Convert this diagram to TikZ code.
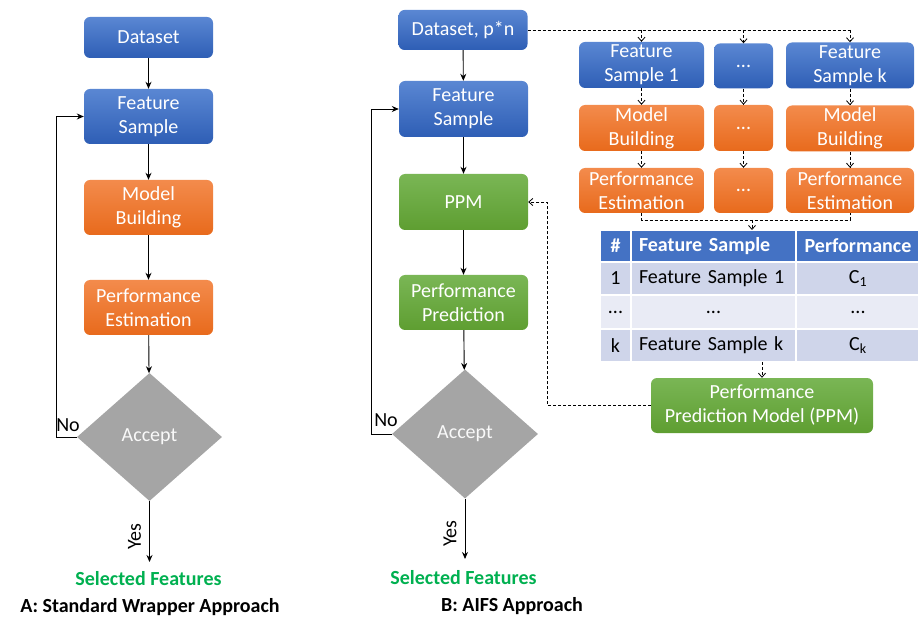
\documentclass[tikz,border=0pt]{standalone}
\usepackage{fontspec}
\setmainfont{Carlito}
\usetikzlibrary{shapes.geometric,arrows.meta}
\definecolor{bltop}{HTML}{5A87D3}
\definecolor{blbot}{HTML}{2E5EB5}
\definecolor{ortop}{HTML}{F38B4C}
\definecolor{orbot}{HTML}{E86A1C}
\definecolor{grtop}{HTML}{7AB655}
\definecolor{grbot}{HTML}{5E9E31}
\definecolor{dgray}{HTML}{A5A5A5}
\definecolor{selgreen}{HTML}{00B050}
\definecolor{thead}{HTML}{4472C4}
\definecolor{tdark}{HTML}{CFD5EA}
\definecolor{tlight}{HTML}{E9EBF5}
\begin{document}
\begin{tikzpicture}[x=1pt,y=-1pt,
  font=\fontsize{20}{24}\selectfont,
  box/.style={rounded corners=6pt, draw=none, text=white, align=center, inner sep=0pt, minimum width=129pt, minimum height=55pt},
  bluebox/.style={box, top color=bltop, bottom color=blbot},
  orbox/.style={box, top color=ortop, bottom color=orbot},
  grbox/.style={box, top color=grtop, bottom color=grbot},
  decision/.style={diamond, fill=dgray, text=white!95!gray, inner sep=0pt, minimum width=145pt, minimum height=128pt},
  flow/.style={line width=0.9pt, -{Stealth[length=7pt,width=6pt]}},
  loopline/.style={line width=0.9pt, -{Stealth[length=7pt,width=6pt]}},
  dflow/.style={line width=0.8pt, dash pattern=on 3pt off 2pt, -{Straight Barb[length=4pt,width=7pt]}},
  dline/.style={line width=0.8pt, dash pattern=on 3pt off 2pt},
  cell/.style={draw=white, line width=1.5pt, inner sep=0pt, minimum height=33pt},
  hcell/.style={cell, fill=thead, minimum height=32pt, text=white, font=\fontsize{20}{24}\selectfont\bfseries},
  yeslab/.style={rotate=90, anchor=south, inner sep=8pt, pos=0.58},
  sel/.style={text=selgreen, font=\fontsize{20}{24}\selectfont\bfseries},
  capt/.style={font=\fontsize{20}{24}\selectfont\bfseries}
]
\useasboundingbox (0,0) rectangle (918,617);

% ---------- A: standard wrapper ----------
\node[bluebox, minimum height=41pt] (ds1) at (148.5,37.5) {Dataset};
\node[bluebox] (fs1) at (148.5,116.5) {Feature\\Sample};
\node[orbox] (mb1) at (148.5,207.5) {Model\\Building};
\node[orbox] (pe1) at (148.5,307.5) {Performance\\Estimation};
\node[decision] (acc1) at (149.5,437) {Accept};
\node[sel] (sf1) at (148.5,579) {Selected Features};
\node[capt] (capA) at (150,607) {A: Standard Wrapper Approach};
\coordinate (yes1end) at (149.5,562);

\draw[flow] (ds1) -- (fs1);
\draw[flow] (fs1) -- (mb1);
\draw[flow] (mb1) -- (pe1);
\draw[flow] (pe1) -- (acc1);
\draw[flow] (acc1) -- node[yeslab] (yes1) {Yes} (yes1end);
\draw[loopline] (acc1.west) -- (56,437) -- (56,116.5) -- (fs1.west);
\node (no1) at (68,425) {No};

% ---------- B: AIFS ----------
\node[bluebox, minimum height=40pt] (ds2) at (463,30) {Dataset, p*n};
\node[bluebox, minimum height=56pt] (fs2) at (463.5,109) {Feature\\Sample};
\node[grbox, minimum height=56pt] (ppm) at (463.5,202) {PPM};
\node[grbox] (pp) at (463.5,302.5) {Performance\\Prediction};
\node[decision, minimum width=146pt, minimum height=129pt] (acc2) at (465,434) {Accept};
\node[sel] (sf2) at (463.5,578) {Selected Features};
\node[capt] (capB) at (512,606) {B: AIFS Approach};
\coordinate (yes2end) at (465,559);

\draw[flow] (ds2) -- (fs2);
\draw[flow] (fs2) -- (ppm);
\draw[flow] (ppm) -- (pp);
\draw[flow] (pp) -- (acc2);
\draw[flow] (acc2) -- node[yeslab] (yes2) {Yes} (yes2end);
\draw[loopline] (acc2.west) -- (371,434) -- (371,109) -- (fs2.west);
\node (no2) at (386,420) {No};

% grid of parallel samples
\node[bluebox, minimum width=125pt, minimum height=46pt] (g11) at (641.5,65) {Feature\\Sample 1};
\node[bluebox, minimum width=59pt, minimum height=45pt] (g12) at (743.5,66) {...};
\node[bluebox, minimum width=128pt, minimum height=46pt] (g13) at (850,65.5) {Feature\\Sample k};
\node[orbox, minimum width=125pt, minimum height=46pt] (g21) at (641.5,128) {Model\\Building};
\node[orbox, minimum width=59pt, minimum height=46pt] (g22) at (743.5,128) {...};
\node[orbox, minimum width=128pt, minimum height=46pt] (g23) at (850,128.5) {Model\\Building};
\node[orbox, minimum width=125pt, minimum height=45pt] (g31) at (641.5,190.5) {Performance\\Estimation};
\node[orbox, minimum width=59pt, minimum height=45pt] (g32) at (743.5,190.5) {...};
\node[orbox, minimum width=128pt, minimum height=45pt] (g33) at (850,190.5) {Performance\\Estimation};

\coordinate (split1) at (641.5,30);
\coordinate (split2) at (743.5,30);
\coordinate (split3) at (850,30);
\draw[dline] (ds2.east) -- (split3);
\draw[dflow] (split1) -- (g11.north);
\draw[dflow] (split2) -- (g12.north);
\draw[dflow] (split3) -- (g13.north);
\draw[dflow] (g11) -- (g21);
\draw[dflow] (g12) -- (g22);
\draw[dflow] (g13) -- (g23);
\draw[dflow] (g21) -- (g31);
\draw[dflow] (g22) -- (g32);
\draw[dflow] (g23) -- (g33);
\coordinate (m1) at (641.5,220);
\coordinate (m3) at (850,220);
\coordinate (mj) at (752,220);
\draw[dline] (g31.south) -- (m1) -- (m3) -- (g33.south);

% table
\node[hcell, minimum width=31pt] (h1) at (615.5,246) {\#};
\node[hcell, minimum width=165pt, text width=149pt, align=left] (h2) at (713.5,246) {Feature Sample};
\node[hcell, minimum width=124pt] (h3) at (858,246) {Performance};
\node[cell, fill=tdark, minimum width=31pt] (r11) at (615.5,278.5) {1};
\node[cell, fill=tdark, minimum width=165pt, text width=149pt, align=left] (r12) at (713.5,278.5) {Feature Sample 1};
\node[cell, fill=tdark, minimum width=124pt] (r13) at (858,278.5) {C\textsubscript{1}};
\node[cell, fill=tlight, minimum width=31pt, minimum height=34pt] (r21) at (615.5,312) {...};
\node[cell, fill=tlight, minimum width=165pt, minimum height=34pt] (r22) at (713.5,312) {...};
\node[cell, fill=tlight, minimum width=124pt, minimum height=34pt] (r23) at (858,312) {...};
\node[cell, fill=tdark, minimum width=31pt] (r31) at (615.5,345.5) {k};
\node[cell, fill=tdark, minimum width=165pt, text width=149pt, align=left] (r32) at (713.5,345.5) {Feature Sample k};
\node[cell, fill=tdark, minimum width=124pt] (r33) at (858,345.5) {C\textsubscript{k}};
\coordinate (tabtop) at (752,230);
\draw[dflow] (mj) -- (tabtop);

% PPM model
\node[grbox, minimum width=222pt, minimum height=55pt] (ppmbox) at (762,405.5) {Performance\\Prediction Model (PPM)};
\coordinate (tabbot) at (762,362);
\draw[dflow] (tabbot) -- (ppmbox.north);
\draw[dflow] (ppmbox.west) -- (547,405.5) -- (547,202) -- (ppm.east);
\end{tikzpicture}
\end{document}
